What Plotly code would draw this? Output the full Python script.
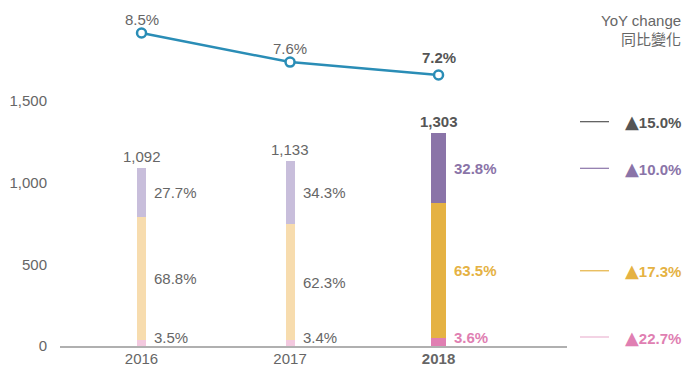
import plotly.graph_objects as go

# Revenue totals and segment shares by year
years = ["2016", "2017", "2018"]
totals = [1092, 1133, 1303]
share_pink = [3.5, 3.4, 3.6]
share_yellow = [68.8, 62.3, 63.5]
share_purple = [27.7, 34.3, 32.8]
margin_pct = [8.5, 7.6, 7.2]
yoy_labels = ["15.0%", "10.0%", "17.3%", "22.7%"]

GREY = "#666666"
DARK = "#555555"
TEAL = "#2a8db6"
pale = {"pink": "#f3c9df", "yellow": "#f7dcae", "purple": "#c8bedb"}
vivid = {"pink": "#e07fb2", "yellow": "#e5b243", "purple": "#8a74a8"}
FONT = "Liberation Sans"
FS = 15

xs = list(range(len(years)))
widths = [0.0606, 0.0606, 0.101]

seg = {
    "pink": [t * p / 100 for t, p in zip(totals, share_pink)],
    "yellow": [t * p / 100 for t, p in zip(totals, share_yellow)],
    "purple": [t * p / 100 for t, p in zip(totals, share_purple)],
}
shares = {"pink": share_pink, "yellow": share_yellow, "purple": share_purple}

fig = go.Figure()
for key in ["pink", "yellow", "purple"]:
    colors = [pale[key], pale[key], vivid[key]]
    fig.add_trace(go.Bar(
        x=xs, y=seg[key], width=widths, marker=dict(color=colors, line=dict(width=0)),
        hoverinfo="skip", showlegend=False,
    ))

fig.add_trace(go.Scatter(
    x=xs, y=margin_pct, yaxis="y2", mode="lines+markers",
    line=dict(color=TEAL, width=2.5),
    marker=dict(size=9, color="white", line=dict(color=TEAL, width=2.5)),
    hoverinfo="skip", showlegend=False,
))

ann = []
for i, x in enumerate(xs):
    last = i == len(xs) - 1
    col = lambda k: vivid[k] if last else GREY
    wt = lambda s: f"<b>{s}</b>" if last else s
    # total above bar
    ann.append(dict(x=x, y=totals[i], xref="x", yref="y", text=wt(f"{totals[i]:,}"),
                    showarrow=False, yanchor="middle", yshift=11.5,
                    font=dict(size=FS, color=DARK if last else GREY)))
    # segment shares to the right of the bar
    xr = x + widths[i] / 2
    ymid_y = seg["pink"][i] + seg["yellow"][i] / 2
    ymid_p = seg["pink"][i] + seg["yellow"][i] + seg["purple"][i] / 2
    ann.append(dict(x=xr, y=ymid_p, xref="x", yref="y", text=wt(f"{shares['purple'][i]}%"),
                    showarrow=False, xanchor="left", yanchor="middle", xshift=6,
                    font=dict(size=FS, color=col("purple"))))
    ann.append(dict(x=xr, y=ymid_y, xref="x", yref="y", text=wt(f"{shares['yellow'][i]}%"),
                    showarrow=False, xanchor="left", yanchor="middle", xshift=6,
                    font=dict(size=FS, color=col("yellow"))))
    ann.append(dict(x=xr, y=0, xref="x", yref="y", text=wt(f"{shares['pink'][i]}%"),
                    showarrow=False, xanchor="left", yanchor="middle", xshift=6, yshift=9,
                    font=dict(size=FS, color=col("pink"))))
    # margin line label
    ann.append(dict(x=x, y=margin_pct[i], xref="x", yref="y2", text=wt(f"{margin_pct[i]}%"),
                    showarrow=False, yanchor="middle", yshift=14 if not last else 17,
                    font=dict(size=FS, color=DARK if last else GREY)))

# YoY change column on the right
last = len(xs) - 1
rows = [
    (totals[last], 11.5, DARK, "#555555"),
    (seg["pink"][last] + seg["yellow"][last] + seg["purple"][last] / 2, 0, vivid["purple"], vivid["purple"]),
    (seg["pink"][last] + seg["yellow"][last] / 2, 0, vivid["yellow"], vivid["yellow"]),
    (0, 9, vivid["pink"], "#ebb6d3"),
]
shapes = []
PX0, PW = 60, 507
for (yv, ysh, tcol, lcol), lab in zip(rows, yoy_labels):
    ann.append(dict(x=(683 - PX0) / PW, y=yv, xref="paper", yref="y",
                    text=f"<span style='font-size:18px;font-family:DejaVu Sans'>▲</span><b>{lab}</b>",
                    showarrow=False, xanchor="right", yanchor="middle", yshift=ysh,
                    font=dict(size=FS, color=tcol)))
    ypx = 346 - yv * 0.16333 - ysh
    yp = (346 - ypx) / 336
    shapes.append(dict(type="line", xref="paper", yref="paper",
                       x0=(580 - PX0) / PW, x1=(609 - PX0) / PW, y0=yp, y1=yp,
                       line=dict(color=lcol, width=1.2)))

ann.append(dict(x=(683 - PX0) / PW, y=1, xref="paper", yref="paper", text="YoY change",
                showarrow=False, xanchor="right", yanchor="middle", yshift=-10,
                font=dict(size=FS, color=GREY)))
ann.append(dict(x=(683 - PX0) / PW, y=1, xref="paper", yref="paper", text="同比變化",
                showarrow=False, xanchor="right", yanchor="middle", yshift=-28,
                font=dict(size=FS, color=GREY, family="Noto Sans CJK TC")))

fig.update_layout(
    width=685, height=367,
    margin=dict(l=60, r=118, t=10, b=21, autoexpand=False),
    barmode="stack",
    plot_bgcolor="white", paper_bgcolor="white",
    font=dict(family=FONT, size=FS, color=GREY),
    annotations=ann, shapes=shapes,
    xaxis=dict(range=[-0.549, 2.865], tickmode="array", tickvals=xs,
               ticktext=[years[0], years[1], f"<b>{years[2]}</b>"],
               showgrid=False, zeroline=False, showline=True, linecolor="#b0b0b0",
               linewidth=1.5, ticks="", automargin=False, ticklabelstandoff=-2,
               tickfont=dict(size=FS, color=GREY)),
    yaxis=dict(range=[0, 2057.6], tickvals=[0, 500, 1000, 1500], tickformat=",",
               showgrid=False, zeroline=False, showline=False, ticks="", automargin=False,
               ticklabelstandoff=12, tickfont=dict(size=FS, color=GREY)),
    yaxis2=dict(range=[-1.190, 9.212], overlaying="y", visible=False),
)

fig.write_html("out.html")
